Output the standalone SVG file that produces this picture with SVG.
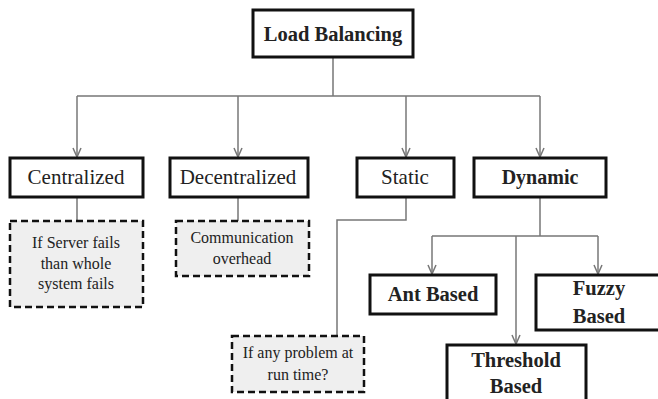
<svg xmlns="http://www.w3.org/2000/svg" width="658" height="399" viewBox="0 0 658 399">
<defs>
<marker id="arr" viewBox="0 0 10 10" refX="10" refY="5" markerWidth="10" markerHeight="10" markerUnits="userSpaceOnUse" orient="auto">
<path d="M1,1 L10,5 L1,9" fill="none" stroke="#777" stroke-width="1.5"/>
</marker>
</defs>
<style>
.box{fill:#fff;stroke:#111;stroke-width:3}
.dash{fill:#efefef;stroke:#111;stroke-width:2.5;stroke-dasharray:7 4}
.c{fill:none;stroke:#777;stroke-width:1.5}
</style>
<rect width="658" height="399" fill="#fff"/>
<g id="connectors">
<path class="c" d="M333,57 V96 M77,96 H540"/>
<path class="c" d="M77,96 V157" marker-end="url(#arr)"/>
<path class="c" d="M238,96 V157" marker-end="url(#arr)"/>
<path class="c" d="M406,96 V157" marker-end="url(#arr)"/>
<path class="c" d="M540,96 V157" marker-end="url(#arr)"/>
<path class="c" d="M77,197 V221 M238,197 V221"/>
<path class="c" d="M406,197 V220 H337 V336"/>
<path class="c" d="M540,197 V236 M432,236 H598"/>
<path class="c" d="M432,236 V274" marker-end="url(#arr)"/>
<path class="c" d="M598,236 V274" marker-end="url(#arr)"/>
<path class="c" d="M516,236 V344" marker-end="url(#arr)"/>
</g>
<g font-family="'Liberation Serif', 'Times New Roman', serif" fill="#222" text-anchor="middle">
<g id="load-balancing">
<rect class="box" x="253" y="10" width="160" height="47"/>
<text x="333" y="41" font-size="20.5" font-weight="bold">Load Balancing</text>
</g>
<g id="centralized">
<rect class="box" x="10" y="158" width="133" height="39"/>
<text x="76" y="184" font-size="21">Centralized</text>
</g>
<g id="decentralized">
<rect class="box" x="170" y="158" width="138" height="39"/>
<text x="238" y="184" font-size="21">Decentralized</text>
</g>
<g id="static">
<rect class="box" x="357" y="158" width="97" height="39"/>
<text x="405" y="184" font-size="21">Static</text>
</g>
<g id="dynamic">
<rect class="box" x="474" y="158" width="132" height="39"/>
<text x="540" y="184" font-size="20" font-weight="bold">Dynamic</text>
</g>
<g id="centralized-note" font-size="16">
<rect class="dash" x="10" y="221" width="133" height="86"/>
<text x="76" y="248">If Server fails</text>
<text x="76" y="269">than whole</text>
<text x="76" y="289">system fails</text>
</g>
<g id="decentralized-note" font-size="16">
<rect class="dash" x="176" y="221" width="133" height="55"/>
<text x="242" y="243">Communication</text>
<text x="242" y="264">overhead</text>
</g>
<g id="static-note" font-size="16">
<rect class="dash" x="232" y="336" width="132" height="56"/>
<text x="298" y="358">If any problem at</text>
<text x="298" y="380">run time?</text>
</g>
<g id="ant-based" font-size="20.5" font-weight="bold">
<rect class="box" x="370" y="275" width="126" height="39"/>
<text x="433" y="301">Ant Based</text>
</g>
<g id="fuzzy-based" font-size="20.5" font-weight="bold">
<rect class="box" x="536" y="275" width="134" height="55"/>
<text x="599" y="295">Fuzzy</text>
<text x="599" y="323">Based</text>
</g>
<g id="threshold-based" font-size="20.5" font-weight="bold">
<rect class="box" x="447" y="345" width="139" height="64"/>
<text x="516" y="367">Threshold</text>
<text x="516" y="393">Based</text>
</g>
</g>
</svg>
